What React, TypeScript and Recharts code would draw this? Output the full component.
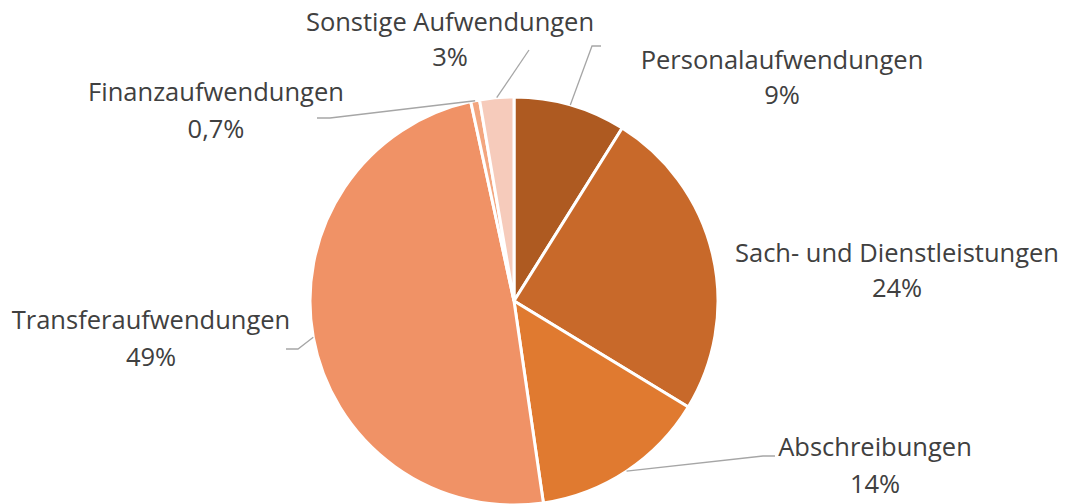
import React from "react";
import { PieChart, Pie, Cell } from "recharts";

const categories = [
  "Personalaufwendungen",
  "Sach- und Dienstleistungen",
  "Abschreibungen",
  "Transferaufwendungen",
  "Finanzaufwendungen",
  "Sonstige Aufwendungen",
];
const values = [8.9, 24.8, 14.0, 48.9, 0.7, 2.7];
const percentLabels = ["9%", "24%", "14%", "49%", "0,7%", "3%"];
const colors = ["#AE5A21", "#C8692A", "#E07A30", "#F09266", "#F3A67F", "#F6CBBB"];

// label layout relative to pie centre: text centre x, baselines of the two lines
const labelLayout = [
  { dx: 268, dy1: -232, dy2: -197 },
  { dx: 383, dy1: -39, dy2: -4 },
  { dx: 361, dy1: 155, dy2: 192 },
  { dx: -363, dy1: 28, dy2: 65 },
  { dx: -298, dy1: -200, dy2: -163 },
  { dx: -64, dy1: -270, dy2: -235 },
];
// leader lines relative to pie centre: elbow, end (null = none)
const leaderLayout: ({ ex: number; ey: number; tx: number; ty: number } | null)[] = [
  { ex: 78, ey: -255, tx: 87, ty: -255 },
  null,
  { ex: 249, ey: 155, tx: 261, ty: 155 },
  { ex: -216, ey: 48, tx: -228, ty: 48 },
  { ex: -184, ey: -183, tx: -197, ty: -183 },
  { ex: 15, ey: -251, tx: 15, ty: -251 },
];

const data = categories.map((name, i) => ({ name, value: values[i] }));

const RAD = Math.PI / 180;
const FONT = "'Open Sans', sans-serif";

const renderLabel = (props: any) => {
  const { cx, cy, midAngle, outerRadius, index } = props;
  const l = labelLayout[index];
  const ld = leaderLayout[index];
  const sx = cx + outerRadius * Math.cos(-midAngle * RAD);
  const sy = cy + outerRadius * Math.sin(-midAngle * RAD);
  return (
    <g key={`lbl-${index}`}>
      {ld && (
        <polyline
          points={`${sx},${sy} ${cx + ld.ex},${cy + ld.ey} ${cx + ld.tx},${cy + ld.ty}`}
          fill="none"
          stroke="#A6A6A6"
          strokeWidth={1.3}
        />
      )}
      <text x={cx + l.dx} y={cy + l.dy1} textAnchor="middle" fill="#404040" fontSize={25.5} fontFamily={FONT}>
        {categories[index]}
      </text>
      <text x={cx + l.dx} y={cy + l.dy2} textAnchor="middle" fill="#404040" fontSize={25.5} fontFamily={FONT}>
        {percentLabels[index]}
      </text>
    </g>
  );
};

export default function App() {
  return (
    <div style={{ position: "absolute", left: 0, top: 0, width: 1067, height: 504, background: "#fff" }}>
      <PieChart width={1067} height={504} margin={{ top: 0, right: 0, bottom: 0, left: 0 }}>
        <Pie
          data={data}
          dataKey="value"
          nameKey="name"
          cx={514}
          cy={301}
          outerRadius={204}
          startAngle={90}
          endAngle={-270}
          stroke="#ffffff"
          strokeWidth={3}
          label={renderLabel}
          labelLine={false}
          isAnimationActive={false}
        >
          {data.map((d, i) => (
            <Cell key={d.name} fill={colors[i]} />
          ))}
        </Pie>
      </PieChart>
    </div>
  );
}
